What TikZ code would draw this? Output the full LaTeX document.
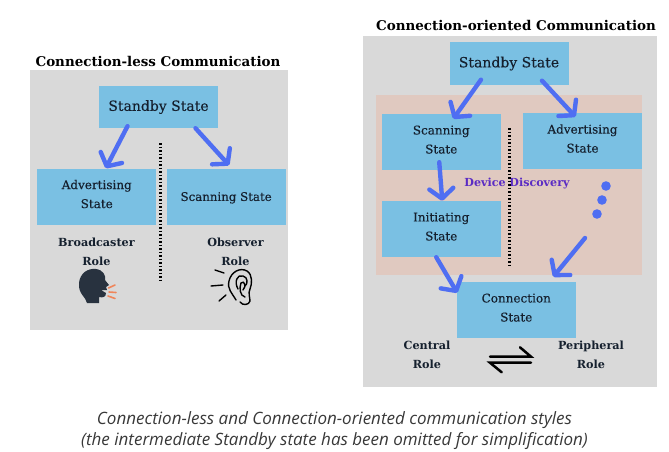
\documentclass[tikz,border=0pt]{standalone}
\usepackage{fontspec}
\setmainfont{DejaVu Serif}
\newfontfamily\capfont{Open Sans}
\usetikzlibrary{arrows.meta, positioning, calc}
\definecolor{panelgrey}{HTML}{D9D9D9}
\definecolor{discpink}{HTML}{E0C9C0}
\definecolor{boxblue}{HTML}{7AC0E3}
\definecolor{flowblue}{HTML}{4F6EF2}
\definecolor{inkdark}{HTML}{15202E}
\definecolor{discpurple}{HTML}{5A2BC4}
\definecolor{speechorange}{HTML}{F0855A}

\begin{document}
\begin{tikzpicture}[
    x=1pt,
    y=-1pt,
    node distance=10pt,
    panel/.style={draw=none, fill=panelgrey, inner sep=0pt},
    statebox/.style={
      rectangle,
      fill=boxblue,
      minimum width=119pt,
      minimum height=56pt,
      inner sep=0pt,
      align=center,
      text=inkdark,
      text depth=5pt,
      font=\fontsize{12}{19}\selectfont\addfontfeatures{FakeBold=0.25}
    },
    topbox/.style={statebox, minimum height=42pt, text depth=3pt, font=\fontsize{14}{19}\selectfont\addfontfeatures{FakeBold=0.25}},
    rolelabel/.style={align=center, text=inkdark, inner sep=0pt, font=\fontsize{11.2}{19}\selectfont\bfseries},
    heading/.style={text=black, inner sep=0pt, font=\fontsize{13.45}{19}\selectfont\bfseries},
    flow/.style={flowblue, line width=4.4pt, line cap=round, -{Straight Barb[length=10pt, width=24pt, round]}},
    divider/.style={black, line width=2.2pt, dash pattern=on 1.8pt off 1.7pt},
    hear/.style={black, line width=1.4pt, line cap=round}
]
\useasboundingbox (0,0) rectangle (669,452);

% Left panel
\node[panel, minimum width=258pt, minimum height=259pt] (panelL) at (159,200) {};
\node[heading] (titleL) at (158,61) {Connection-less Communication};
\node[topbox] (standbyL) at (158.5,107) {Standby State};
\node[statebox] (advL) at (96.75,196.5) {Advertising\\State};
\node[statebox, right=of advL, text depth=0pt, font=\fontsize{11.8}{19}\selectfont\addfontfeatures{FakeBold=0.25}] (scanL) {Scanning State};
\coordinate (dotTopL) at (160.5,143);
\coordinate (dotEndL) at (160.5,282);
\draw[divider] (dotTopL) -- (dotEndL);

\draw[flow] ([xshift=-31pt,yshift=2pt]standbyL.south) -- ([xshift=9pt]advL.north);
\draw[flow] ([xshift=37pt]standbyL.south) -- ([xshift=3pt,yshift=3pt]scanL.north);

\node[rolelabel] (broadL) at (96.5,251.5) {Broadcaster\\Role};
\node[rolelabel] (obsL) at (235.5,251.5) {Observer\\Role};

% Speaking head
\fill[inkdark!92!white] (87,303) .. controls (86,297) and (78,294) .. (79,283)
  .. controls (80,273) and (88,268) .. (96,269)
  .. controls (103,270) and (106,275) .. (105,280)
  -- (109,285) -- (106,287) -- (107,290) -- (101,290)
  -- (106,293) .. controls (106,297) and (103,298) .. (99,297) -- (99,303) -- cycle;
\draw[speechorange, line width=1.6pt, line cap=round] (108.5,288) -- (115,285);
\draw[speechorange, line width=1.6pt, line cap=round] (109,292) -- (116,292.5);
\draw[speechorange, line width=1.6pt, line cap=round] (108,296) -- (115,298.5);

% Listening ear
\draw[hear] (215,270) -- (224,273);
\draw[hear] (211,286) -- (223,285);
\draw[hear] (219,301) -- (226,295);
\draw[hear] (236,300) .. controls (232,293) and (227,289) .. (229,281)
  .. controls (231,272) and (240,267) .. (247,271)
  .. controls (253,275) and (252,284) .. (250,289)
  .. controls (248,293) and (250,298) .. (250,301)
  .. controls (249,305) and (243,306) .. (240,302);
\draw[hear] (238,289) .. controls (234,282) and (237,274) .. (243,276)
  .. controls (248,277) and (248,284) .. (245,286);
\draw[hear] (245,297) .. controls (240,296) and (239,288) .. (241,283)
  .. controls (244,280) and (247,286) .. (243,290);

% Right panel
\node[panel, minimum width=294pt, minimum height=351pt] (panelR) at (510,211.5) {};
\node[panel, fill=discpink, minimum width=266.5pt, minimum height=180pt] (discovery) at (508.75,185) {};
\node[heading] (titleR) at (516,25) {Connection-oriented Communication};
\node[topbox] (standbyR) at (509,63.5) {Standby State};
\node[statebox] (scanR) at (441.25,142) {Scanning\\State};
\node[statebox] (advR) at (582.5,141) {Advertising\\State};
\node[statebox] (initR) at (441.25,229) {Initiating\\State};
\node[statebox] (connR) at (516.25,310) {Connection\\State};
\node[text=discpurple, inner sep=0pt, font=\fontsize{11.1}{19}\selectfont\bfseries] (discLabel) at (517,184) {Device Discovery};
\coordinate (dotTopR) at (509.5,128);
\coordinate (dotEndR) at (509.5,267);
\draw[divider] (dotTopR) -- (dotEndR);

% Three dots
\fill[flowblue] (606,186) circle (4.8);
\fill[flowblue] (602,200) circle (4.8);
\fill[flowblue] (597,214) circle (4.8);
\coordinate (dotsEnd) at (585,238);

\draw[flow] ([xshift=-28pt,yshift=5pt]standbyR.south) -- ([xshift=12pt,yshift=-5pt]scanR.north);
\draw[flow] ([xshift=33pt,yshift=4pt]standbyR.south) -- ([xshift=-7pt,yshift=-4pt]advR.north);
\draw[flow] ([xshift=-2pt,yshift=8pt]scanR.south) -- ([xshift=1pt]initR.north);
\draw[flow] ([xshift=-5pt]initR.south) -- ([xshift=-59pt,yshift=-11pt]connR.north);
\draw[flow] (dotsEnd) -- ([xshift=37pt,yshift=5pt]connR.north);

\node[rolelabel] (centralR) at (427,355) {Central\\Role};
\node[rolelabel] (periphR) at (591,355) {Peripheral\\Role};

% Two way arrows
\draw[black, line width=2.5pt, line cap=round] (490,356.7) -- (531,356.7) -- (520,347.3);
\draw[black, line width=2.5pt, line cap=round] (531,362.7) -- (490,362.7) -- (501.7,372.3);

% Caption
\node[align=center, inner sep=0pt, text=black!78, font=\capfont\fontsize{17}{21}\selectfont\itshape] (caption) at (334.5,431) {Connection-less and Connection-oriented communication styles\\(the intermediate Standby state has been omitted for simplification)};

\end{tikzpicture}
\end{document}
